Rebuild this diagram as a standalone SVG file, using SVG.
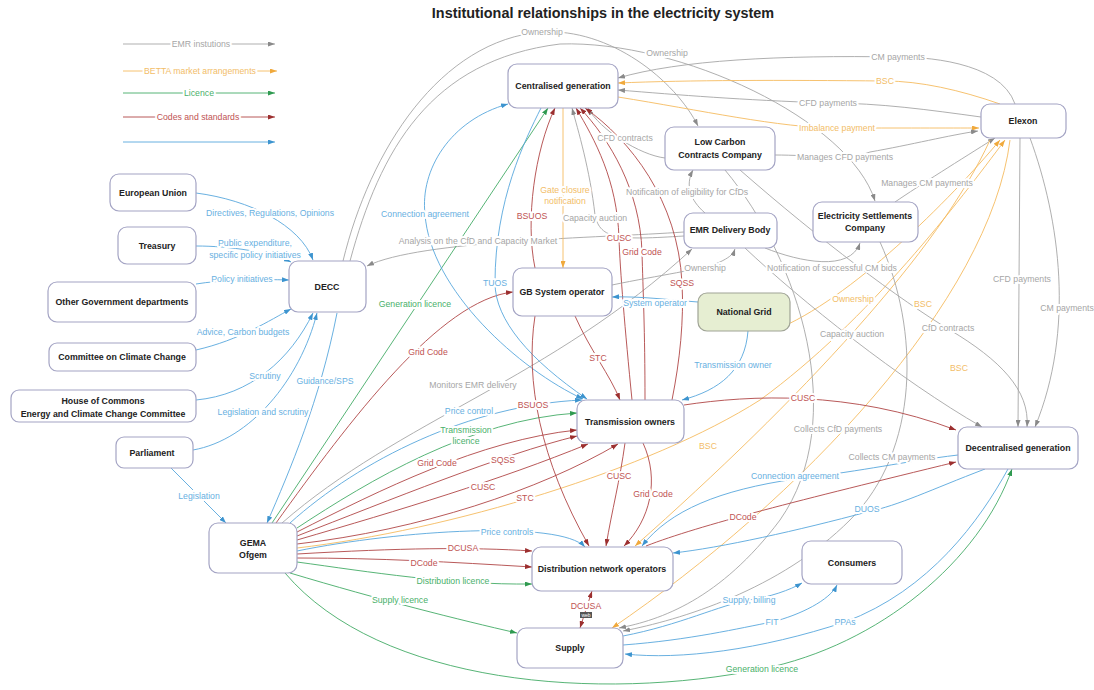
<svg xmlns="http://www.w3.org/2000/svg" width="1094" height="690" viewBox="0 0 1094 690">
<defs>
<marker id="mg" markerUnits="userSpaceOnUse" markerWidth="7" markerHeight="5" refX="7" refY="2.5" orient="auto-start-reverse"><path d="M0,0 L7,2.5 L0,5z" fill="#8a8a8a"/></marker>
<marker id="mo" markerUnits="userSpaceOnUse" markerWidth="7" markerHeight="5" refX="7" refY="2.5" orient="auto-start-reverse"><path d="M0,0 L7,2.5 L0,5z" fill="#f0a93c"/></marker>
<marker id="mv" markerUnits="userSpaceOnUse" markerWidth="7" markerHeight="5" refX="7" refY="2.5" orient="auto-start-reverse"><path d="M0,0 L7,2.5 L0,5z" fill="#2f9a50"/></marker>
<marker id="mr" markerUnits="userSpaceOnUse" markerWidth="7" markerHeight="5" refX="7" refY="2.5" orient="auto-start-reverse"><path d="M0,0 L7,2.5 L0,5z" fill="#9c2f2f"/></marker>
<marker id="mb" markerUnits="userSpaceOnUse" markerWidth="7" markerHeight="5" refX="7" refY="2.5" orient="auto-start-reverse"><path d="M0,0 L7,2.5 L0,5z" fill="#3d94cf"/></marker>
</defs>
<style>
.n rect{fill:#fff;stroke:#a4a4c4;stroke-width:1.2}
.n text{font-family:"Liberation Sans",Arial,sans-serif;font-size:8.8px;font-weight:bold;fill:#222;text-anchor:middle}
.e path{fill:none;stroke-width:0.9}
.e .g{stroke:#a6a6a6;marker-end:url(#mg)}
.e .o{stroke:#f5bb60;marker-end:url(#mo)}
.e .v{stroke:#44ac66;marker-end:url(#mv)}
.e .r{stroke:#b04646;marker-end:url(#mr)}
.e .b{stroke:#58a7dc;marker-end:url(#mb)}
.e .d.g{marker-start:url(#mg)}
.e .d.r{marker-start:url(#mr)}
.e .d.b{marker-start:url(#mb)}
.l text{font-family:"Liberation Sans",Arial,sans-serif;font-size:8.7px;text-anchor:middle;paint-order:stroke;stroke:#fff;stroke-width:4px;stroke-linejoin:round}
.l .g{fill:#a6a6a6}
.l .o{fill:#f2bd68}
.l .v{fill:#49b06a}
.l .r{fill:#c05454}
.l .b{fill:#68b0df}
.title{font-family:"Liberation Sans",Arial,sans-serif;font-size:14.4px;font-weight:bold;fill:#222;text-anchor:middle}
</style>
<rect width="1094" height="690" fill="#fff"/>
<text class="title" x="603" y="18">Institutional relationships in the electricity system</text>

<g id="legend">
<g class="e">
<path class="g" d="M123,44 H275"/>
<path class="o" d="M123,71 H277"/>
<path class="v" d="M123,93 H275"/>
<path class="r" d="M123,117 H275"/>
<path class="b" d="M123,142 H275"/>
</g>
<g class="l">
<text class="g" x="201" y="47">EMR instutions</text>
<text class="o" x="200" y="74">BETTA market arrangements</text>
<text class="v" x="199" y="96">Licence</text>
<text class="r" x="198" y="120">Codes and standards</text>
</g>
</g>

<g id="connectors" class="e">
<path class="b" d="M196,193 C250,200 300,225 313,260"/>
<path class="b" d="M196,246 C230,246 270,252 291,262"/>
<path class="b" d="M196,284 C220,280 260,279 289,280"/>
<path class="b" d="M196,350 C240,340 270,320 291,309"/>
<path class="b" d="M196,400 C250,395 290,360 313,313"/>
<path class="b" d="M193,450 C250,440 300,380 317,313"/>
<path class="b" d="M337,313 C320,400 290,470 267,523"/>
<path class="b" d="M171,468 L226,523"/>
<path class="g" d="M343,261 C370,150 440,40 542,32 C610,28 675,80 698,126"/>
<path class="g" d="M350,261 C380,150 430,60 560,44 C680,40 850,120 875,201"/>
<path class="g" d="M684,232 C600,238 420,240 367,266"/>
<path class="v" d="M272,523 L548,108"/>
<path class="r" d="M276,523 C350,420 440,300 513,292"/>
<path class="g" d="M282,523 C400,420 550,380 692,249"/>
<path class="b" d="M290,523 C360,460 470,405 582,400"/>
<path class="v" d="M297,528 C370,480 470,420 577,413"/>
<path class="r" d="M297,532 C380,490 480,440 577,430"/>
<path class="r" d="M297,536 C390,500 500,455 577,436"/>
<path class="r" d="M297,540 C400,510 500,480 588,444"/>
<path class="r" d="M297,544 C420,530 540,490 618,444"/>
<path class="o" d="M297,548 C450,530 650,470 760,400 C870,320 960,200 1005,140"/>
<path class="b" d="M297,551 C400,530 560,520 585,547"/>
<path class="r" d="M297,554 C400,548 470,547 532,551"/>
<path class="r" d="M297,558 C380,558 450,562 532,567"/>
<path class="v" d="M297,562 C370,572 450,585 532,584"/>
<path class="v" d="M290,573 C380,600 460,620 517,633"/>
<path class="v" d="M285,573 C380,685 600,702 762,669 C880,645 980,560 1012,469"/>
<path class="b d" d="M508,104 C450,120 420,170 425,214 C430,290 520,370 583,399"/>
<path class="b" d="M541,108 C525,140 495,200 495,283 C495,320 530,360 587,399"/>
<path class="r" d="M535,268 C525,220 535,150 555,108"/>
<path class="r" d="M535,316 C525,380 540,460 589,546"/>
<path class="o" d="M563,108 L563,268"/>
<path class="g" d="M684,236 C620,240 600,240 595,215 C590,170 578,130 572,108"/>
<path class="g" d="M665,158 C640,155 600,130 588,108"/>
<path class="r" d="M632,400 C625,330 620,270 619,238 C617,180 595,140 576,108"/>
<path class="r" d="M645,400 C645,330 643,290 642,252 C640,190 610,140 580,108"/>
<path class="r" d="M672,400 C680,360 684,320 682,283 C678,200 630,140 585,108"/>
<path class="r" d="M575,316 C590,350 610,375 620,400"/>
<path class="b" d="M698,302 C670,300 640,296 612,297"/>
<path class="g" d="M612,285 C660,275 700,270 720,262 C728,258 733,255 735,249"/>
<path class="g" d="M705,213 C690,200 685,185 693,170"/>
<path class="b" d="M748,331 C745,370 720,390 682,400"/>
<path class="o" d="M775,330 C850,300 950,200 1000,140"/>
<path class="g" d="M1015,104 C1000,60 920,57 898,57 C780,55 680,60 618,78"/>
<path class="o" d="M1000,104 C960,90 920,81 885,81 C780,80 690,80 618,83"/>
<path class="g" d="M981,117 C930,110 880,103 828,103 C740,100 680,95 618,90"/>
<path class="o" d="M618,97 C700,110 780,128 837,128 C900,128 950,128 979,128"/>
<path class="g" d="M775,155 C810,155 850,160 870,152 C910,145 950,135 978,131"/>
<path class="g" d="M895,202 C920,185 960,160 995,138"/>
<path class="g" d="M1020,138 L1018,427"/>
<path class="g" d="M1030,138 C1060,220 1075,330 1035,427"/>
<path class="g" d="M740,170 C820,240 900,300 950,330 C1000,360 1030,390 1027,427"/>
<path class="g" d="M745,248 C800,300 900,380 982,427"/>
<path class="g" d="M765,248 C800,262 850,272 860,243"/>
<path class="o" d="M990,140 C940,250 800,400 635,546"/>
<path class="o" d="M1010,140 C990,300 800,500 612,628"/>
<path class="g" d="M725,170 C800,260 850,420 780,520 C720,600 660,620 619,628"/>
<path class="g" d="M880,242 C920,330 920,450 850,520 C780,590 680,620 623,631"/>
<path class="r" d="M684,405 C750,395 850,390 956,430"/>
<path class="r" d="M625,443 C620,480 612,510 606,546"/>
<path class="r" d="M643,443 C660,480 650,520 624,546"/>
<path class="b" d="M958,455 C900,462 870,470 795,479 C720,490 670,510 642,546"/>
<path class="b" d="M985,469 C930,490 900,505 867,512 C800,530 720,548 673,553"/>
<path class="r" d="M646,546 C700,525 800,500 956,462"/>
<path class="b" d="M623,636 C680,625 720,605 749,600 C770,597 790,590 802,583"/>
<path class="b" d="M623,645 C690,640 740,628 772,622 C800,615 830,600 837,585"/>
<path class="b" d="M1008,469 C980,520 930,590 845,622 C760,650 680,660 625,654"/>
<path class="r d" d="M592,591 L580,628"/>
</g>

<g id="edge-labels" class="l">
<text class="b" x="270" y="216">Directives, Regulations, Opinions</text>
<text class="b" x="255" y="246">Public expenditure,</text>
<text class="b" x="255" y="258">specific policy initiatives</text>
<text class="b" x="242" y="282">Policy initiatives</text>
<text class="b" x="243" y="335">Advice, Carbon budgets</text>
<text class="b" x="265" y="379">Scrutiny</text>
<text class="b" x="263" y="415">Legislation and scrutiny</text>
<text class="b" x="325" y="384">Guidance/SPS</text>
<text class="b" x="199" y="499">Legislation</text>
<text class="g" x="542" y="35">Ownership</text>
<text class="g" x="667" y="56">Ownership</text>
<text class="g" x="478" y="244">Analysis on the CfD and Capacity Market</text>
<text class="v" x="415" y="307">Generation licence</text>
<text class="r" x="428" y="355">Grid Code</text>
<text class="g" x="473" y="388">Monitors EMR delivery</text>
<text class="b" x="469" y="414">Price control</text>
<text class="v" x="466" y="433">Transmission</text>
<text class="v" x="466" y="444">licence</text>
<text class="r" x="437" y="466">Grid Code</text>
<text class="r" x="503" y="463">SQSS</text>
<text class="r" x="483" y="490">CUSC</text>
<text class="r" x="525" y="501">STC</text>
<text class="o" x="708" y="449">BSC</text>
<text class="b" x="507" y="535">Price controls</text>
<text class="r" x="463" y="551">DCUSA</text>
<text class="r" x="424" y="566">DCode</text>
<text class="v" x="453" y="584">Distribution licence</text>
<text class="v" x="400" y="603">Supply licence</text>
<text class="v" x="762" y="672">Generation licence</text>
<text class="b" x="425" y="217">Connection agreement</text>
<text class="b" x="495" y="286">TUOS</text>
<text class="r" x="532" y="219">BSUOS</text>
<text class="r" x="533" y="408">BSUOS</text>
<text class="o" x="565" y="193">Gate closure</text>
<text class="o" x="565" y="204">notification</text>
<text class="g" x="595" y="221">Capacity auction</text>
<text class="g" x="625" y="141">CFD contracts</text>
<text class="r" x="619" y="241">CUSC</text>
<text class="r" x="642" y="255">Grid Code</text>
<text class="r" x="682" y="286">SQSS</text>
<text class="r" x="598" y="361">STC</text>
<text class="b" x="655" y="306">System operator</text>
<text class="g" x="705" y="271">Ownership</text>
<text class="g" x="687" y="195">Notification of eligibility for CfDs</text>
<text class="b" x="733" y="368">Transmission owner</text>
<text class="o" x="853" y="302">Ownership</text>
<text class="g" x="898" y="60">CM payments</text>
<text class="o" x="885" y="84">BSC</text>
<text class="g" x="828" y="106">CFD payments</text>
<text class="o" x="837" y="131">Imbalance payment</text>
<text class="g" x="845" y="160">Manages CFD payments</text>
<text class="g" x="927" y="186">Manages CM payments</text>
<text class="g" x="1022" y="282">CFD payments</text>
<text class="g" x="1067" y="311">CM payments</text>
<text class="g" x="948" y="331">CfD contracts</text>
<text class="g" x="852" y="337">Capacity auction</text>
<text class="g" x="832" y="271">Notification of successful CM bids</text>
<text class="o" x="923" y="307">BSC</text>
<text class="o" x="959" y="371">BSC</text>
<text class="g" x="838" y="432">Collects CfD payments</text>
<text class="g" x="892" y="460">Collects CM payments</text>
<text class="r" x="803" y="401">CUSC</text>
<text class="r" x="619" y="479">CUSC</text>
<text class="r" x="653" y="497">Grid Code</text>
<text class="b" x="795" y="479">Connection agreement</text>
<text class="b" x="867" y="512">DUOS</text>
<text class="r" x="743" y="520">DCode</text>
<text class="b" x="749" y="603">Supply, billing</text>
<text class="b" x="772" y="625">FIT</text>
<text class="b" x="845" y="625">PPAs</text>
<text class="r" x="586" y="609">DCUSA</text>
</g>
<g id="web-tag">
<rect x="580" y="612" width="12" height="6" fill="#555"/>
<text x="586" y="617" font-family="Liberation Sans, Arial, sans-serif" font-size="5px" fill="#fff" text-anchor="middle">web</text>
</g>

<g id="n-centralised" class="n"><rect x="508" y="64" width="110" height="44" rx="9"/><text x="563" y="89">Centralised generation</text></g>
<g id="n-lccc" class="n"><rect x="665" y="127" width="110" height="43" rx="9"/><text x="720" y="145">Low Carbon</text><text x="720" y="158">Contracts Company</text></g>
<g id="n-elexon" class="n"><rect x="981" y="104" width="85" height="34" rx="9"/><text x="1023" y="124">Elexon</text></g>
<g id="n-emr" class="n"><rect x="684" y="213" width="93" height="35" rx="9"/><text x="730" y="233">EMR Delivery Body</text></g>
<g id="n-esc" class="n"><rect x="813" y="202" width="105" height="40" rx="9"/><text x="865" y="219">Electricity Settlements</text><text x="865" y="231">Company</text></g>
<g id="n-ng" class="n"><rect x="698" y="293" width="92" height="38" rx="9" style="fill:#e6eed2;stroke:#a0a496"/><text x="744" y="315">National Grid</text></g>
<g id="n-gbso" class="n"><rect x="513" y="268" width="99" height="48" rx="9"/><text x="562" y="295">GB System operator</text></g>
<g id="n-decc" class="n"><rect x="289" y="261" width="77" height="51" rx="9"/><text x="327" y="290">DECC</text></g>
<g id="n-eu" class="n"><rect x="110" y="174" width="86" height="37" rx="9"/><text x="153" y="196">European Union</text></g>
<g id="n-treasury" class="n"><rect x="118" y="227" width="78" height="37" rx="9"/><text x="157" y="249">Treasury</text></g>
<g id="n-ogd" class="n"><rect x="48" y="282" width="148" height="40" rx="9"/><text x="122" y="305">Other Government departments</text></g>
<g id="n-ccc" class="n"><rect x="49" y="343" width="147" height="28" rx="8"/><text x="122" y="360">Committee on Climate Change</text></g>
<g id="n-hoc" class="n"><rect x="11" y="390" width="185" height="32" rx="8"/><text x="103" y="404">House of Commons</text><text x="103" y="417">Energy and Climate Change Committee</text></g>
<g id="n-parliament" class="n"><rect x="116" y="437" width="77" height="31" rx="8"/><text x="152" y="456">Parliament</text></g>
<g id="n-gema" class="n"><rect x="209" y="523" width="88" height="50" rx="9"/><text x="253" y="546">GEMA</text><text x="253" y="558">Ofgem</text></g>
<g id="n-to" class="n"><rect x="577" y="400" width="107" height="43" rx="9"/><text x="630" y="425">Transmission owners</text></g>
<g id="n-dno" class="n"><rect x="532" y="547" width="141" height="44" rx="9"/><text x="602" y="572">Distribution network operators</text></g>
<g id="n-supply" class="n"><rect x="517" y="628" width="106" height="40" rx="9"/><text x="570" y="651">Supply</text></g>
<g id="n-consumers" class="n"><rect x="802" y="541" width="100" height="43" rx="9"/><text x="852" y="566">Consumers</text></g>
<g id="n-decgen" class="n"><rect x="958" y="427" width="120" height="42" rx="9"/><text x="1018" y="451">Decentralised generation</text></g>
</svg>
